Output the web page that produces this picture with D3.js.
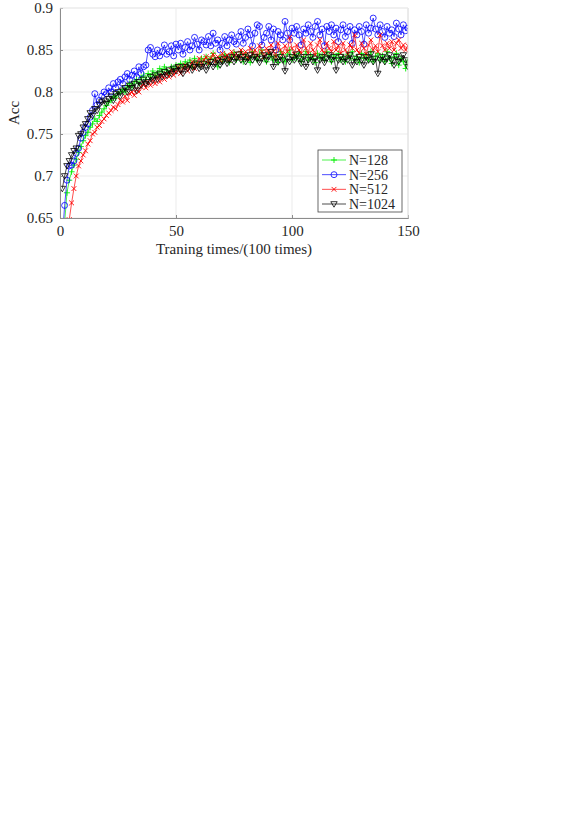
<!DOCTYPE html>
<head>
<script src="https://d3js.org/d3.v7.min.js"></script>
<style>
body { margin: 0; background: #fff; font-family: "Liberation Serif", "Times New Roman", serif; }
</style>
</head>
<body>
<svg></svg>
<script>
// accuracy for each batch size, one value per 100 training iterations (x = 1..150)
var acc128 = [0.62,0.645,0.68,0.695,0.705,0.713,0.72,0.728,0.735,0.742,0.748,0.752,0.758,0.762,0.768,0.765,0.772,0.776,0.78,0.784,
  0.788,0.79,0.795,0.793,0.798,0.80,0.803,0.80,0.806,0.81,0.806,0.812,0.815,0.81,0.817,0.82,0.815,0.822,0.818,0.825,
  0.82,0.823,0.828,0.824,0.83,0.826,0.822,0.83,0.827,0.832,0.828,0.834,0.83,0.836,0.832,0.838,0.83,0.84,0.835,0.832,
  0.84,0.836,0.842,0.834,0.84,0.846,0.838,0.83,0.842,0.836,0.845,0.84,0.835,0.843,0.847,0.838,0.842,0.848,0.836,0.845,
  0.84,0.835,0.848,0.842,0.838,0.845,0.85,0.84,0.836,0.846,0.842,0.838,0.844,0.835,0.848,0.84,0.836,0.845,0.85,0.838,
  0.844,0.84,0.846,0.836,0.842,0.848,0.838,0.844,0.84,0.835,0.846,0.84,0.844,0.838,0.848,0.842,0.836,0.844,0.84,0.846,
  0.838,0.842,0.836,0.845,0.84,0.848,0.838,0.842,0.835,0.846,0.84,0.844,0.838,0.848,0.836,0.842,0.846,0.838,0.843,0.836,
  0.848,0.84,0.834,0.842,0.846,0.832,0.84,0.836,0.828,0.838];
var acc256 = [0.625,0.665,0.695,0.712,0.713,0.718,0.727,0.733,0.745,0.752,0.758,0.762,0.77,0.778,0.798,0.785,0.79,0.795,0.80,0.798,
  0.805,0.80,0.81,0.805,0.812,0.815,0.81,0.818,0.822,0.815,0.82,0.825,0.818,0.83,0.822,0.83,0.832,0.85,0.853,0.845,
  0.842,0.85,0.843,0.848,0.856,0.845,0.848,0.855,0.843,0.857,0.85,0.858,0.845,0.853,0.86,0.85,0.855,0.865,0.857,0.85,
  0.862,0.86,0.856,0.866,0.855,0.87,0.858,0.862,0.85,0.858,0.866,0.855,0.862,0.868,0.86,0.857,0.866,0.872,0.858,0.865,
  0.875,0.868,0.855,0.87,0.88,0.878,0.856,0.865,0.87,0.878,0.862,0.875,0.85,0.872,0.868,0.862,0.884,0.87,0.862,0.876,
  0.87,0.878,0.868,0.856,0.875,0.87,0.88,0.872,0.865,0.878,0.884,0.868,0.875,0.855,0.878,0.872,0.88,0.868,0.876,0.86,
  0.874,0.88,0.866,0.872,0.878,0.858,0.874,0.868,0.878,0.872,0.857,0.88,0.87,0.876,0.888,0.875,0.868,0.88,0.872,0.865,
  0.878,0.87,0.874,0.866,0.882,0.875,0.868,0.88,0.873,0.876];
var acc512 = [0.58,0.60,0.625,0.648,0.668,0.685,0.70,0.712,0.718,0.725,0.73,0.738,0.742,0.75,0.752,0.758,0.76,0.765,0.768,0.772,
  0.775,0.778,0.782,0.78,0.785,0.79,0.788,0.795,0.79,0.798,0.80,0.796,0.803,0.80,0.806,0.81,0.805,0.812,0.808,0.815,
  0.81,0.818,0.812,0.82,0.815,0.822,0.818,0.826,0.82,0.824,0.83,0.822,0.828,0.832,0.825,0.83,0.836,0.828,0.834,0.84,
  0.832,0.838,0.842,0.834,0.84,0.845,0.836,0.842,0.838,0.846,0.84,0.844,0.838,0.848,0.842,0.846,0.84,0.85,0.844,0.848,
  0.84,0.852,0.845,0.85,0.843,0.855,0.848,0.842,0.852,0.846,0.856,0.848,0.842,0.858,0.85,0.845,0.855,0.848,0.865,0.852,
  0.845,0.856,0.85,0.846,0.862,0.852,0.846,0.858,0.85,0.844,0.856,0.862,0.85,0.846,0.858,0.852,0.848,0.86,0.85,0.855,
  0.846,0.858,0.85,0.845,0.856,0.852,0.868,0.85,0.846,0.858,0.852,0.845,0.856,0.862,0.85,0.855,0.848,0.868,0.855,0.85,
  0.858,0.852,0.86,0.85,0.858,0.862,0.852,0.856,0.85,0.855];
var acc1024 = [0.685,0.70,0.712,0.718,0.725,0.73,0.733,0.748,0.75,0.758,0.762,0.768,0.775,0.772,0.78,0.778,0.785,0.788,0.79,0.786,
  0.792,0.795,0.79,0.798,0.80,0.795,0.802,0.805,0.80,0.808,0.805,0.81,0.802,0.812,0.808,0.815,0.81,0.812,0.818,0.814,
  0.82,0.815,0.822,0.818,0.824,0.82,0.826,0.822,0.828,0.825,0.83,0.826,0.822,0.83,0.828,0.832,0.826,0.83,0.834,0.828,
  0.83,0.834,0.826,0.832,0.836,0.83,0.834,0.838,0.832,0.836,0.84,0.834,0.838,0.842,0.836,0.84,0.845,0.838,0.842,0.836,
  0.84,0.844,0.838,0.842,0.84,0.835,0.84,0.844,0.838,0.842,0.848,0.83,0.84,0.836,0.842,0.838,0.825,0.84,0.836,0.842,
  0.838,0.845,0.84,0.834,0.842,0.83,0.838,0.842,0.836,0.84,0.826,0.838,0.842,0.835,0.84,0.844,0.838,0.842,0.826,0.838,
  0.842,0.836,0.84,0.838,0.844,0.832,0.84,0.836,0.842,0.838,0.832,0.842,0.838,0.845,0.836,0.84,0.822,0.838,0.842,0.836,
  0.84,0.844,0.838,0.832,0.842,0.836,0.84,0.844,0.838,0.83];

var seriesNames = ["N=128", "N=256", "N=512", "N=1024"];
var seriesColors = ["#00ee00", "#0000ff", "#ff0000", "#000000"];
var seriesMarkers = ["plus", "circle", "cross", "tri"];
var xTicks = [0, 50, 100, 150];
var yTicks = [0.65, 0.7, 0.75, 0.8, 0.85, 0.9];

var allSeries = [acc128, acc256, acc512, acc1024];

var width = 575, height = 813;
var pLeft = 60, pRight = 408, pTop = 8, pBottom = 218;

var svg = d3.select("svg").attr("width", width).attr("height", height);

var x = d3.scaleLinear().domain([0, 150]).range([pLeft, pRight]);
var y = d3.scaleLinear().domain([0.65, 0.9]).range([pBottom, pTop]);

// grid
svg.append("g").selectAll("line").data(xTicks).enter().append("line")
  .attr("x1", d => x(d)).attr("x2", d => x(d)).attr("y1", pTop).attr("y2", pBottom)
  .attr("stroke", "#ebebeb").attr("stroke-width", 1);
svg.append("g").selectAll("line").data(yTicks).enter().append("line")
  .attr("x1", pLeft).attr("x2", pRight).attr("y1", d => y(d)).attr("y2", d => y(d))
  .attr("stroke", "#ebebeb").attr("stroke-width", 1);

svg.append("defs").append("clipPath").attr("id", "clip")
  .append("rect").attr("x", pLeft).attr("y", pTop).attr("width", pRight - pLeft).attr("height", pBottom - pTop);

var plot = svg.append("g").attr("clip-path", "url(#clip)");

var line = d3.line().x((d, i) => x(i + 1)).y(d => y(d));

function marker(g, type, color) {
  if (type == "circle") {
    g.append("circle").attr("r", 3).attr("fill", "none").attr("stroke", color).attr("stroke-width", 0.8);
  } else if (type == "plus") {
    g.append("path").attr("d", "M-3,0H3M0,-3V3").attr("stroke", color).attr("stroke-width", 0.9);
  } else if (type == "cross") {
    g.append("path").attr("d", "M-2.4,-2.4L2.4,2.4M-2.4,2.4L2.4,-2.4").attr("stroke", color).attr("stroke-width", 0.9);
  } else {
    g.append("path").attr("d", "M-3.2,-2.3H3.2L0,3.2Z").attr("fill", "none").attr("stroke", color).attr("stroke-width", 0.8);
  }
}

allSeries.forEach(function (data, k) {
  plot.append("path").datum(data).attr("d", line)
    .attr("fill", "none").attr("stroke", seriesColors[k]).attr("stroke-width", 0.7);
  plot.append("g").selectAll("g").data(data).enter().append("g")
    .attr("transform", (d, i) => "translate(" + x(i + 1) + "," + y(d) + ")")
    .each(function () { marker(d3.select(this), seriesMarkers[k], seriesColors[k]); });
});

// axes
var xAxis = svg.append("g").attr("transform", "translate(0," + pBottom + ")")
  .call(d3.axisBottom(x).tickValues(xTicks).tickSize(-3).tickPadding(7).tickFormat(d3.format("d")));
var yAxis = svg.append("g").attr("transform", "translate(" + pLeft + ",0)")
  .call(d3.axisLeft(y).tickValues(yTicks).tickSize(-3).tickPadding(7).tickFormat(d => String(d)));
[xAxis, yAxis].forEach(function (a) {
  a.select(".domain").attr("stroke", "#8c8c8c");
  a.selectAll(".tick line").attr("stroke", "#8c8c8c");
  a.selectAll("text").attr("fill", "#262626").style("font-size", "15px")
    .style("font-family", "Liberation Serif, serif");
});
// right and top edges
svg.append("line").attr("x1", pRight).attr("x2", pRight).attr("y1", pTop).attr("y2", pBottom).attr("stroke", "#e0e0e0");
svg.append("line").attr("x1", pLeft).attr("x2", pRight).attr("y1", pTop).attr("y2", pTop).attr("stroke", "#ebebeb");

svg.append("text").attr("x", (pLeft + pRight) / 2).attr("y", 254).attr("text-anchor", "middle")
  .style("font-size", "15px").attr("fill", "#262626").text("Traning times/(100 times)");
svg.append("text").attr("transform", "translate(19," + (pTop + pBottom) / 2 + ") rotate(-90)")
  .attr("text-anchor", "middle").style("font-size", "15px").attr("fill", "#262626").text("Acc");

// legend
var lg = svg.append("g");
lg.append("rect").attr("x", 318).attr("y", 150).attr("width", 84).attr("height", 62)
  .attr("fill", "#fff").attr("stroke", "#444").attr("stroke-width", 0.8);
var legendY = d3.scalePoint().domain(seriesNames).range([160, 204]);
seriesNames.forEach(function (name, k) {
  var yy = legendY(name);
  lg.append("line").attr("x1", 322).attr("x2", 346).attr("y1", yy).attr("y2", yy)
    .attr("stroke", seriesColors[k]).attr("stroke-width", 0.7);
  var m = lg.append("g").attr("transform", "translate(334," + yy + ")");
  marker(m, seriesMarkers[k], seriesColors[k]);
  lg.append("text").attr("x", 349).attr("y", yy + 5).style("font-size", "14px").attr("fill", "#262626").text(name);
});
</script>
</body>
